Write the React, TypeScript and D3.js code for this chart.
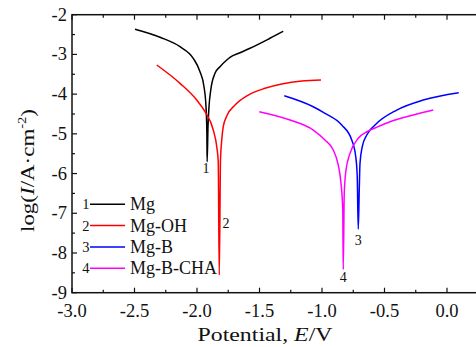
import React from "react";
import * as d3 from "d3";

// curve data: [potential E (V), log(I/A·cm-2)]
const mg: [number, number][] = [
  [-2.496, -2.368], [-2.296, -2.569], [-2.136, -2.806], [-2.03, -3.098],
  [-1.976, -3.436], [-1.944, -3.814], [-1.928, -4.317], [-1.921, -4.987],
  [-1.919, -5.703], [-1.912, -4.821], [-1.904, -4.317], [-1.89, -3.897],
  [-1.856, -3.476], [-1.816, -3.31], [-1.762, -3.141], [-1.736, -3.073],
  [-1.656, -2.957], [-1.576, -2.846], [-1.416, -2.594], [-1.31, -2.418],
];
const mgOH: [number, number][] = [
  [-2.322, -3.267], [-2.136, -3.728], [-2.002, -4.149], [-1.936, -4.443],
  [-1.87, -4.904], [-1.842, -5.325], [-1.83, -5.7], [-1.822, -8.557],
  [-1.812, -5.66], [-1.802, -5.156], [-1.79, -4.821], [-1.762, -4.552],
  [-1.696, -4.275], [-1.59, -4.023], [-1.456, -3.854], [-1.322, -3.746],
  [-1.162, -3.67], [-1.008, -3.645],
];
const mgB: [number, number][] = [
  [-1.302, -4.04], [-1.07, -4.317], [-0.976, -4.484], [-0.842, -4.778],
  [-0.762, -5.156], [-0.73, -5.577], [-0.718, -6.081], [-0.71, -7.398],
  [-0.702, -6.416], [-0.696, -5.743], [-0.678, -5.325], [-0.642, -5.03],
  [-0.576, -4.778], [-0.402, -4.401], [-0.19, -4.149], [0.094, -3.965],
];
const mgBCHA: [number, number][] = [
  [-1.502, -4.443], [-1.256, -4.652], [-1.07, -4.904], [-0.976, -5.156],
  [-0.91, -5.408], [-0.87, -5.786], [-0.848, -6.247], [-0.834, -6.919],
  [-0.83, -8.413], [-0.822, -6.499], [-0.808, -5.912], [-0.776, -5.491],
  [-0.71, -5.113], [-0.642, -4.947], [-0.576, -4.854], [-0.456, -4.695],
  [-0.27, -4.526], [-0.11, -4.401],
];

const seriesNames = ["Mg", "Mg-OH", "Mg-B", "Mg-B-CHA"];
const seriesData = [mg, mgOH, mgB, mgBCHA];
const seriesColors = ["#000000", "#ff0000", "#0000ff", "#ff00ff"];

// number labels at the bottom of each dip
const dipLabels = ["1", "2", "3", "4"];
const dipPos: [number, number][] = [
  [-1.928, -5.879], [-1.768, -7.242], [-0.71, -7.675], [-0.83, -8.607],
];

const xTicks = [-3.0, -2.5, -2.0, -1.5, -1.0, -0.5, 0.0];
const yTicks = [-9, -8, -7, -6, -5, -4, -3, -2];

const W = 476;
const H = 347;
const FONT = "'Liberation Serif', 'Times New Roman', serif";

export default function App() {
  const left = 72, top = 14.7, bottom = 292.7;

  const x = d3.scaleLinear().domain([-3, 0.25]).range([left, left + 3.25 * 125]);
  const y = d3.scaleLinear().domain([-9, -2]).range([bottom, top]);
  const right = x(0.25);

  const line = d3
    .line<[number, number]>()
    .x((d) => x(d[0]))
    .y((d) => y(d[1]))
    .curve(d3.curveMonotoneX);

  const xMinor = d3.range(-3, 0.26, 0.25);
  const yMinor = d3.range(-9, -1.99, 0.5);

  return (
    <svg
      width={W}
      height={H}
      style={{ position: "absolute", left: 0, top: 0, background: "#fff" }}
      fontFamily={FONT}
    >
      {/* curves */}
      {seriesData.map((d, i) => (
        <path key={i} d={line(d) || ""} fill="none" stroke={seriesColors[i]} strokeWidth={1.5} />
      ))}

      {/* frame */}
      <rect x={left} y={top} width={right - left} height={bottom - top} fill="none" stroke="#111" strokeWidth={1.5} />

      {/* x ticks (bottom and top, inward) */}
      {xMinor.map((v, i) => {
        const major = Math.abs(v * 2 - Math.round(v * 2)) < 1e-6;
        const len = major ? 5 : 3;
        return (
          <g key={"xt" + i} stroke="#111" strokeWidth={1.2}>
            <line x1={x(v)} x2={x(v)} y1={bottom} y2={bottom - len} />
            <line x1={x(v)} x2={x(v)} y1={top} y2={top + len} />
          </g>
        );
      })}
      {yMinor.map((v, i) => {
        const major = Math.abs(v - Math.round(v)) < 1e-6;
        const len = major ? 5 : 3;
        return <line key={"yt" + i} x1={left} x2={left + len} y1={y(v)} y2={y(v)} stroke="#111" strokeWidth={1.2} />;
      })}

      {/* tick labels */}
      {xTicks.map((v) => (
        <text key={"xl" + v} x={x(v)} y={316.5} fontSize={18.5} textAnchor="middle" fill="#111">
          {v.toFixed(1)}
        </text>
      ))}
      {yTicks.map((v) => (
        <text key={"yl" + v} x={67} y={y(v) + 6} fontSize={18.5} textAnchor="end" fill="#111">
          {String(v)}
        </text>
      ))}

      {/* axis titles */}
      <text x={265} y={341} fontSize={19} textAnchor="middle" fill="#111" textLength={135} lengthAdjust="spacingAndGlyphs">
        Potential, <tspan fontStyle="italic">E</tspan>/V
      </text>
      <text
        transform={`translate(33.5, 170.5) rotate(-90)`}
        fontSize={19}
        textAnchor="middle"
        fill="#111"
        textLength={123}
        lengthAdjust="spacingAndGlyphs"
      >
        log(<tspan fontStyle="italic">I</tspan>/A·cm
        <tspan fontSize={12} dy={-8}>-2</tspan>
        <tspan dy={8}>)</tspan>
      </text>

      {/* dip labels */}
      {dipLabels.map((t, i) => (
        <text key={"dl" + i} x={x(dipPos[i][0])} y={y(dipPos[i][1]) + 4.7} fontSize={14} textAnchor="middle" fill="#111">
          {t}
        </text>
      ))}

      {/* legend */}
      {seriesNames.map((name, i) => {
        const ly = 204.3 + i * 21.3;
        return (
          <g key={"lg" + i}>
            <text x={89.5} y={ly + 4.9} fontSize={14.5} textAnchor="end" fill="#111">
              {i + 1}
            </text>
            <line x1={90} x2={125} y1={ly} y2={ly} stroke={seriesColors[i]} strokeWidth={1.5} />
            <text x={130} y={ly + 6} fontSize={18} fill="#111">
              {name}
            </text>
          </g>
        );
      })}
    </svg>
  );
}
